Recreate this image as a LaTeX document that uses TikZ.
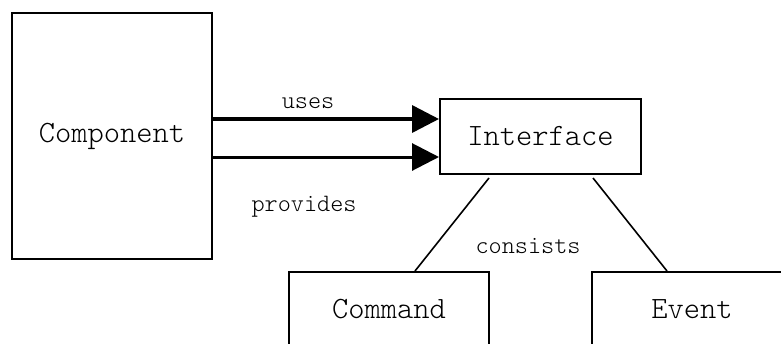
\documentclass[tikz,border=0pt]{standalone}
\usetikzlibrary{arrows.meta}
\begin{document}
\begin{tikzpicture}[x=1pt,y=-1pt,
  box/.style={draw=black,line width=2pt,inner sep=0pt,font=\ttfamily\fontseries{l}\fontsize{31}{31}\selectfont},
  lbl/.style={inner sep=0pt,font=\ttfamily\fontseries{l}\fontsize{25}{25}\selectfont},
  arr/.style={-{Triangle[length=27pt,width=27pt]}},
  link/.style={line width=1.6pt}]
\useasboundingbox (0,0) rectangle (781,343);
\clip (0,0) rectangle (781,343);
\node[box,minimum width=200pt,minimum height=246pt] (comp) at (112,136) {Component};
\node[box,minimum width=201pt,minimum height=75pt] (iface) at (540.5,136.5) {Interface};
\node[box,minimum width=200pt,minimum height=75pt] (cmd) at (389,309.5) {Command};
\node[box,minimum width=200pt,minimum height=75pt] (evt) at (692,309.5) {Event};
\draw[arr,line width=3.5pt] (comp.east |- 0,119) -- (iface.west |- 0,119);
\draw[arr,line width=3pt] (comp.east |- 0,157) -- (iface.west |- 0,157);
\draw[link] ([xshift=-51.5pt,yshift=-3pt]iface.south) -- ([xshift=26pt]cmd.north);
\draw[link] ([xshift=52.5pt,yshift=-3pt]iface.south) -- ([xshift=-25pt]evt.north);
\node[lbl] (uses) at (308,103) {uses};
\node[lbl] (prov) at (304,207) {provides};
\node[lbl] (cons) at (528,246) {consists};
\end{tikzpicture}
\end{document}
